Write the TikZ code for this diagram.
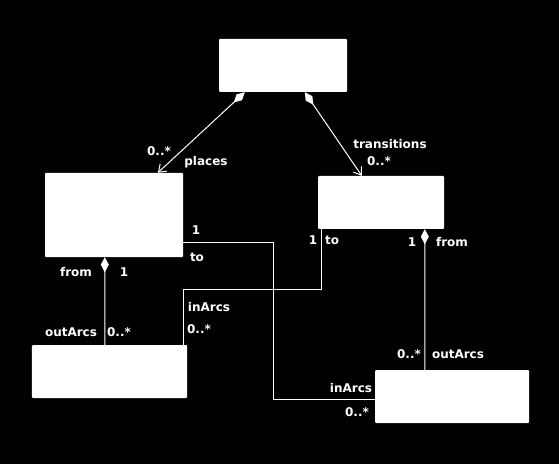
\documentclass[tikz,border=0pt]{standalone}
\usepackage{fontspec}
\setmainfont{DejaVu Sans}
\usetikzlibrary{arrows.meta, positioning, calc}
\definecolor{ink}{HTML}{ffffff}
\definecolor{bg}{HTML}{000000}
\def\boxH{53}

\begin{document}
\begin{tikzpicture}[
    x=1bp, y=-1bp,
    every node/.style={font=\bfseries\fontsize{12bp}{14bp}\selectfont, text=ink, inner sep=0pt},
    classbox/.style={draw=none, fill=ink, minimum height=\boxH bp, rounded corners=1bp},
    link/.style={draw=ink, line width=1bp},
    owns/.style={link, {Diamond[length=15bp,width=8bp]}-{Straight Barb[length=7bp,width=10bp]}},
    ownsplain/.style={link, {Diamond[length=15bp,width=8bp]}-},
    ]

% background and bounding box
\fill[bg] (0,0) rectangle (559,464);
\useasboundingbox (0,0) rectangle (559,464);

% ====================================================================
% Classes (empty white boxes)
% ====================================================================
\node[classbox, minimum width=128bp] (net)   at (283,65.5)  {};
\node[classbox, minimum width=138bp, minimum height=84bp] (place) at (114,215) {};
\node[classbox, minimum width=126bp] (trans) at (381,202.5) {};
\node[classbox, minimum width=155bp] (ptarc) at (109.5,371.5) {};
\node[classbox, minimum width=154bp] (tparc) at (452,396.5) {};

% ====================================================================
% Compositions from the net
% ====================================================================
\draw[owns] ($(net.south west)+(26,0)$) -- ($(place.north west)+(113,0)$);
\draw[owns] ($(net.south west)+(86,0)$) -- ($(trans.north west)+(44,0)$);

\node (plMult)  at (159,151) {0..*};
\node (plRole)  at (206,162) {places};
\node (trRole)  at (390,144) {transitions};
\node (trMult)  at (379,161) {0..*};

% ====================================================================
% Outgoing arcs (composition, straight down)
% ====================================================================
\draw[ownsplain] ($(place.south west)+(60,0)$) -- ($(ptarc.north west)+(73,0)$);
\draw[ownsplain] ($(trans.south west)+(107,0)$) -- ($(tparc.north west)+(50,0)$);

\node (plFrom)   at (76,272)  {from};
\node (plOne)    at (124,272) {1};
\node (ptOut)    at (71,332)  {outArcs};
\node (ptOutM)   at (119,332) {0..*};

\node (trOne)    at (412,242) {1};
\node (trFrom)   at (452,242) {from};
\node (tpOutM)   at (409,354) {0..*};
\node (tpOut)    at (458,354) {outArcs};

% ====================================================================
% Incoming arcs (plain associations, elbowed)
% ====================================================================
\draw[link] ($(place.north east)+(0,70)$) -- ++(90,0) |- ($(tparc.north west)+(0,30)$);
\draw[link] ($(trans.south west)+(4,0)$) -- ++(0,60) -| ($(ptarc.north east)+(-4,0)$);

\node (plToOne)  at (196,230) {1};
\node (plTo)     at (197,257) {to};
\node (tpIn)     at (351,388) {inArcs};
\node (tpInM)    at (357,412) {0..*};

\node (trToOne)  at (313,240) {1};
\node (trTo)     at (332,240) {to};
\node (ptIn)     at (209,307) {inArcs};
\node (ptInM)    at (199,329) {0..*};

\end{tikzpicture}
\end{document}
